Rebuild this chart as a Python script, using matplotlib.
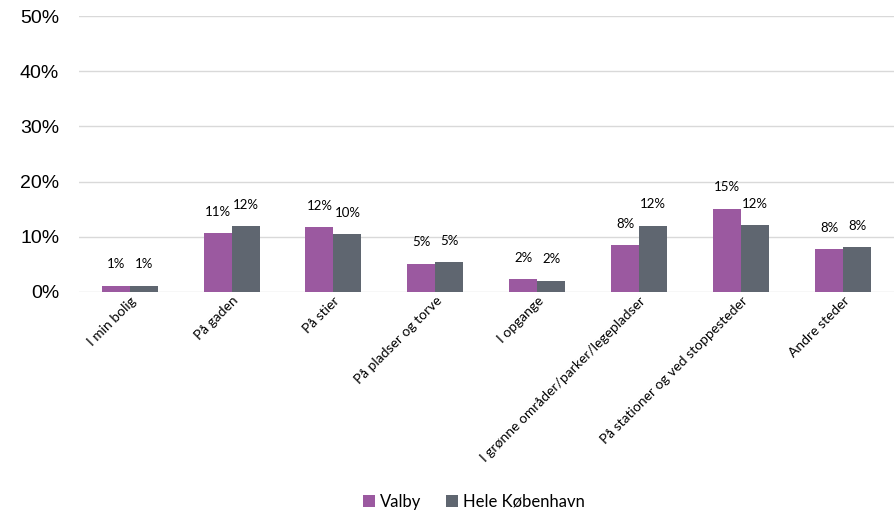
import numpy as np
import matplotlib.pyplot as plt

categories = ["I min bolig", "På gaden", "På stier", "På pladser og torve", "I opgange",
              "I grønne områder/parker/legepladser", "På stationer og ved stoppesteder",
              "Andre steder"]
valby = [1.1, 10.6, 11.7, 5.1, 2.3, 8.4, 15.1, 7.8]
hele_kbh = [1.1, 11.9, 10.4, 5.4, 2.0, 12.0, 12.1, 8.1]
valby_labels = ["1%", "11%", "12%", "5%", "2%", "8%", "15%", "8%"]
hele_labels = ["1%", "12%", "10%", "5%", "2%", "12%", "12%", "8%"]

c_valby = "#9b59a0"
c_hele = "#5f6670"

fig = plt.figure(figsize=(8.94, 5.22), dpi=100)
ax = fig.add_axes([0.088, 0.441, 0.912, 0.528])

x = np.arange(len(categories))
w = 0.275
b1 = ax.bar(x - w/2, valby, w, color=c_valby, label="Valby", zorder=3)
b2 = ax.bar(x + w/2, hele_kbh, w, color=c_hele, label="Hele København", zorder=3)

for bars, labs in ((b1, valby_labels), (b2, hele_labels)):
    for b, t in zip(bars, labs):
        ax.annotate(t, (b.get_x() + b.get_width()/2, b.get_height()),
                    xytext=(0, 11), textcoords="offset points",
                    ha="center", va="bottom", fontsize=9.5, family="Lato")

ax.set_ylim(0, 50)
ax.set_xlim(-0.5, len(categories) - 0.5)
ax.set_yticks(range(0, 51, 10))
ax.set_yticklabels([f"{v}%" for v in range(0, 51, 10)], fontsize=14, family="Liberation Sans")
ax.yaxis.grid(True, color="#d9d9d9", linewidth=1, zorder=0)
ax.tick_params(axis="y", length=0, pad=14)
ax.tick_params(axis="x", length=0, pad=2)
ax.set_xticks(x)
ax.set_xticklabels(categories, rotation=45, ha="right", rotation_mode="anchor",
                   fontsize=10, family="Lato")
for s in ax.spines.values():
    s.set_visible(False)

fig.legend(loc="lower center", bbox_to_anchor=(0.53, -0.005), ncol=2, frameon=False,
           prop={"family": "Lato", "size": 12}, handlelength=0.7, handleheight=0.7,
           columnspacing=1.5, handletextpad=0.3)

fig.savefig("out.png", dpi=100)
